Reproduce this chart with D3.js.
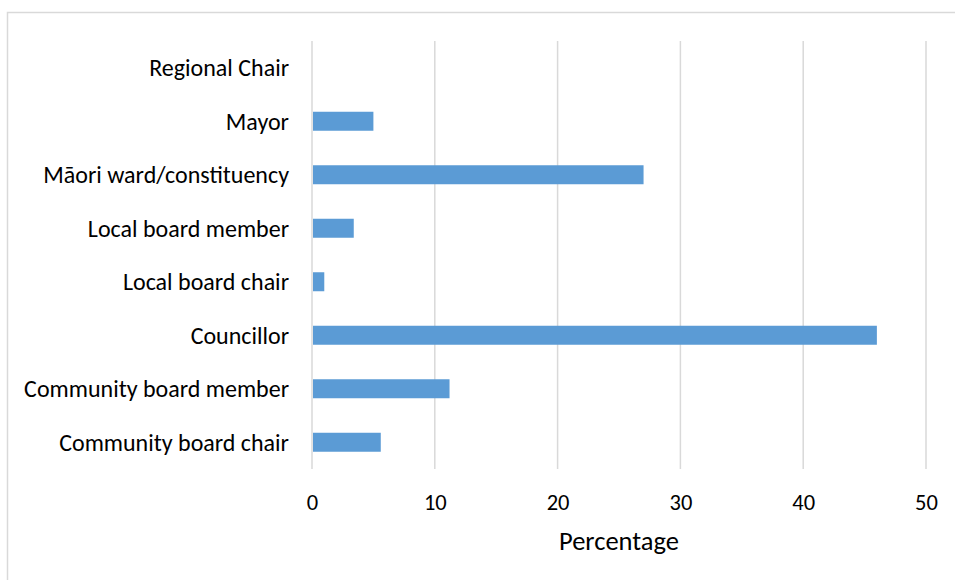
<!DOCTYPE html>
<html>
<head>
<meta charset="utf-8">
<script src="https://cdn.jsdelivr.net/npm/d3@7/dist/d3.min.js"></script>
<style>
  html, body { margin: 0; padding: 0; background: #fff; }
  svg { display: block; font-family: Carlito, Lato, sans-serif; }
</style>
</head>
<body>
<svg id="chart" width="955" height="580"></svg>
<script>
// Share of elected positions, by role (percent)
const categories = [
  "Regional Chair",
  "Mayor",
  "Māori ward/constituency",
  "Local board member",
  "Local board chair",
  "Councillor",
  "Community board member",
  "Community board chair"
];
const values = [0, 5.0, 27.0, 3.4, 1.0, 46.0, 11.2, 5.6];
const xTicks = [0, 10, 20, 30, 40, 50];
const xTitle = "Percentage";

const svg = d3.select("#chart");
const W = 955, H = 580;
const plot = { left: 312, right: 926, top: 41, bottom: 469 };

// outer frame (only top and left edges fall inside the view)
svg.append("rect")
  .attr("x", 7.5).attr("y", 12.5)
  .attr("width", W).attr("height", H)
  .attr("fill", "#fff").attr("stroke", "#D9D9D9").attr("stroke-width", 1.5);

const x = d3.scaleLinear().domain([0, 50]).range([plot.left, plot.right]);
const y = d3.scaleBand().domain(categories).range([plot.top, plot.bottom]).paddingInner(0.645).paddingOuter(0.3225);

// vertical gridlines
svg.append("g").selectAll("line").data(xTicks).join("line")
  .attr("x1", d => x(d)).attr("x2", d => x(d))
  .attr("y1", plot.top).attr("y2", plot.bottom)
  .attr("stroke", "#D9D9D9").attr("stroke-width", 1.5);

// bars
svg.append("g").selectAll("rect").data(categories).join("rect")
  .attr("x", x(0) + 1)
  .attr("y", d => y(d))
  .attr("width", (d, i) => Math.max(0, x(values[i]) - x(0) - 1))
  .attr("height", y.bandwidth())
  .attr("fill", "#5B9BD5")
  .attr("display", (d, i) => values[i] > 0 ? null : "none");

// x axis tick labels
const xAxis = d3.axisBottom(x).tickValues(xTicks).tickSize(0).tickPadding(0).tickFormat(d3.format("d"));
const gx = svg.append("g").attr("transform", `translate(0, ${plot.bottom})`).call(xAxis);
gx.select(".domain").remove();
gx.selectAll("text")
  .attr("y", 33).attr("dy", "0.35em")
  .attr("font-family", "Carlito, Lato, sans-serif")
  .attr("font-size", 22.5).attr("fill", "#000");

// y axis category labels
const yAxis = d3.axisLeft(y).tickSize(0).tickPadding(0);
const gy = svg.append("g").attr("transform", `translate(289, 0)`).call(yAxis);
gy.select(".domain").remove();
gy.selectAll("text")
  .attr("x", 0).attr("dy", "0.35em")
  .attr("font-family", "Carlito, Lato, sans-serif")
  .attr("font-size", 24).attr("fill", "#000");

// axis title
svg.append("text")
  .attr("x", (plot.left + plot.right) / 2).attr("y", 541)
  .attr("dy", "0.35em")
  .attr("text-anchor", "middle")
  .attr("font-size", 26.5).attr("fill", "#000")
  .text(xTitle);
</script>
</body>
</html>
